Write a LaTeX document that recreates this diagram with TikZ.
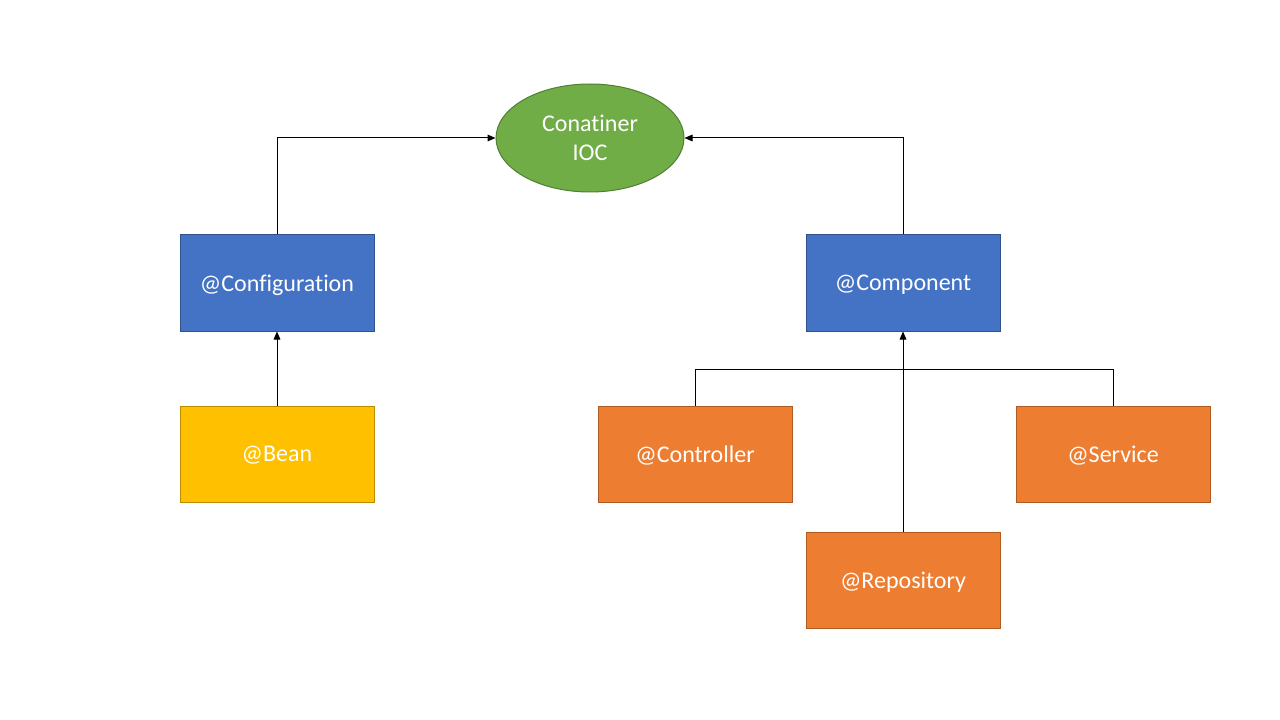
\documentclass[tikz,border=0pt]{standalone}
\usepackage{fontspec}
\setmainfont[Ligatures={NoCommon}]{Carlito}
\usetikzlibrary{shapes.geometric,arrows.meta}
\definecolor{bluefill}{HTML}{4472C4}
\definecolor{blueline}{HTML}{2F528F}
\definecolor{orangefill}{HTML}{ED7D31}
\definecolor{orangeline}{HTML}{AE5A21}
\definecolor{greenfill}{HTML}{70AD47}
\definecolor{greenline}{HTML}{507E32}
\definecolor{yellowfill}{HTML}{FFC000}
\definecolor{yellowline}{HTML}{BC8C00}
\tikzset{
  box/.style={rectangle, minimum width=145.5pt, minimum height=72pt, inner sep=0pt, line width=0.75pt, text=white, text depth=0pt, font=\fontsize{18}{21.6}\selectfont},
  bluebox/.style={box, fill=bluefill, draw=blueline},
  orangebox/.style={box, fill=orangefill, draw=orangeline},
  yellowbox/.style={box, fill=yellowfill, draw=yellowline},
  greenell/.style={ellipse, minimum width=141pt, minimum height=81pt, inner sep=0pt, fill=greenfill, draw=greenline, line width=0.75pt, text=white, align=center, text depth=0pt, font=\fontsize{18}{21.6}\selectfont},
  conn/.style={draw=black, line width=0.75pt, -{Triangle[length=6pt,width=5pt]}},
  plain/.style={draw=black, line width=0.75pt}
}
\begin{document}
\begin{tikzpicture}[x=0.75pt,y=-0.75pt]
\useasboundingbox[fill=white] (0,0) rectangle (1280,720);
\node[greenell] (ioc) at (590,138) {Conatiner\\IOC};
\node[bluebox] (conf) at (277,283) {@Configuration};
\node[bluebox] (comp) at (903,283) {@Component};
\node[yellowbox] (bean) at (277,454) {@Bean};
\node[orangebox] (ctrl) at (695,454) {@Controller};
\node[orangebox] (serv) at (1113,454) {@Service};
\node[orangebox] (repo) at (903,580) {@Repository};
\coordinate (j) at (903,369);
\draw[conn] (conf.north) |- (ioc.west);
\draw[conn] (comp.north) |- (ioc.east);
\draw[conn] (bean.north) -- (conf.south);
\draw[conn] (repo.north) -- (comp.south);
\draw[plain] (ctrl.north) |- (j);
\draw[plain] (serv.north) |- (j);
\end{tikzpicture}
\end{document}
